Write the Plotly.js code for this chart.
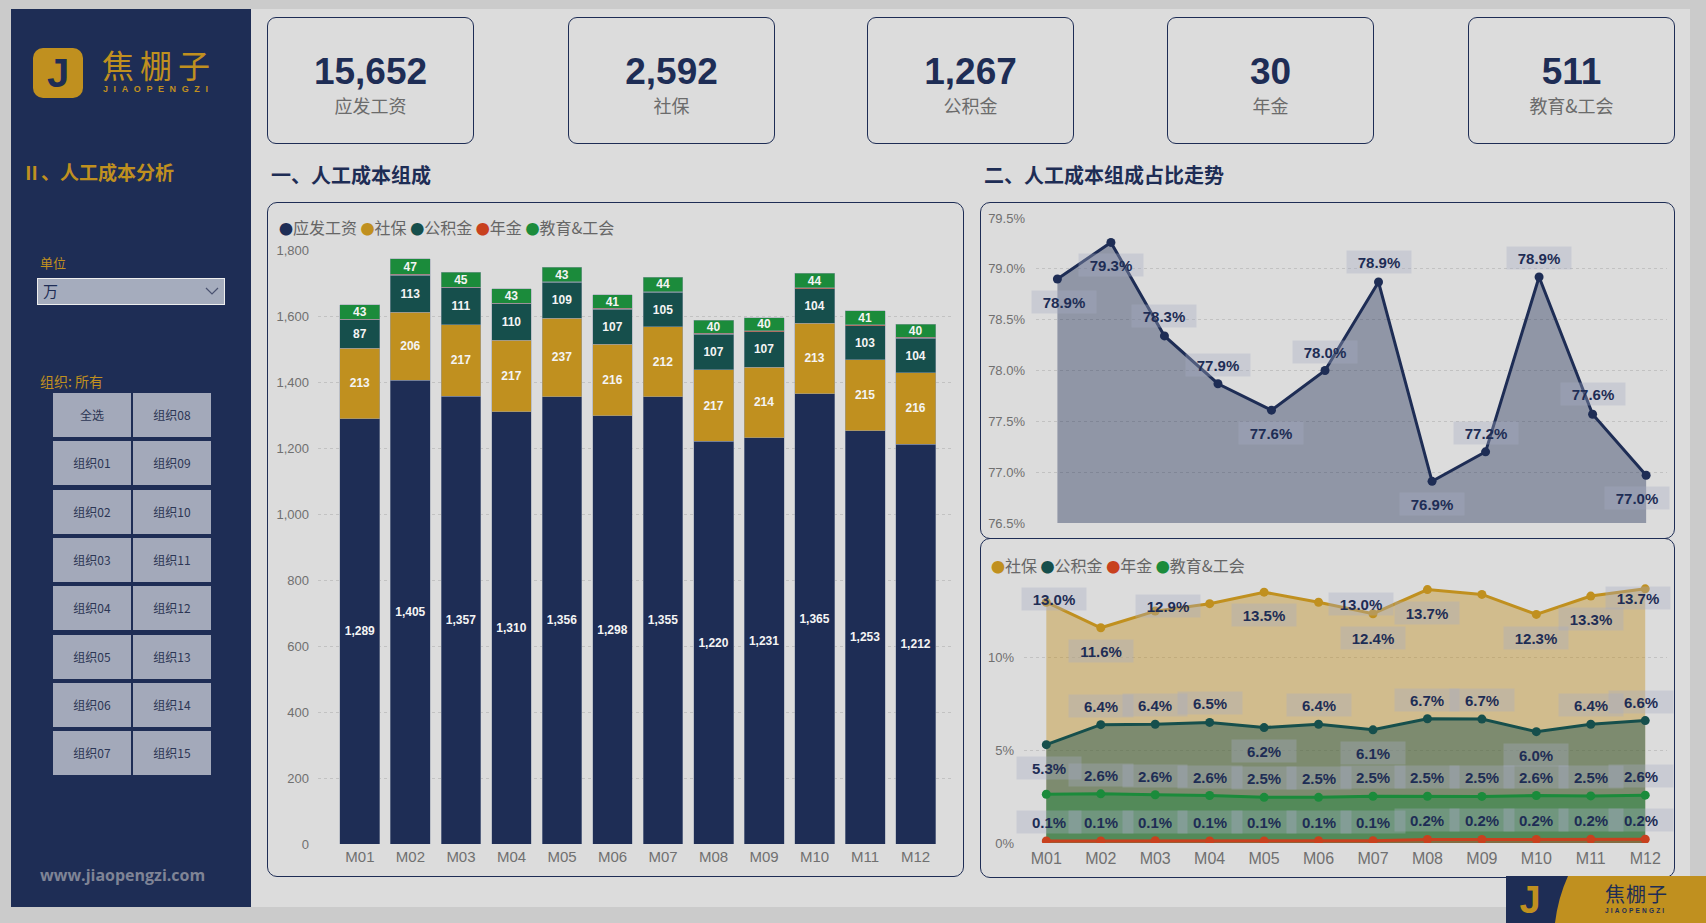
<!DOCTYPE html>
<html>
<head>
<meta charset="utf-8">
<script src="https://cdn.plot.ly/plotly-3.0.1.min.js"></script>
<style>
html,body{margin:0;padding:0;}
body{width:1706px;height:923px;background:#cbcbcb;position:relative;overflow:hidden;font-family:'Liberation Sans','Noto Sans CJK SC',sans-serif;}
.abs{position:absolute;}
#main{left:11px;top:9px;width:1679px;height:898px;background:#dcdcdc;}
#side{left:11px;top:9px;width:240px;height:898px;background:#1e2d55;}
.card{position:absolute;top:17px;width:205px;height:125px;border:1px solid #1e2d55;border-radius:9px;}
.card .v{position:absolute;left:0;right:0;top:33px;line-height:42px;text-align:center;font-weight:bold;font-size:37px;color:#1e2d55;font-family:'Liberation Sans',sans-serif;}
.card .l{position:absolute;left:0;right:0;top:75px;line-height:24px;text-align:center;font-size:18px;color:#6b6b6b;font-family:'Noto Sans CJK SC',sans-serif;}
.sect{position:absolute;top:161px;line-height:28px;font-size:20px;font-weight:bold;color:#1e2d55;font-family:'Noto Sans CJK SC',sans-serif;}
.panel{position:absolute;border:1px solid #1e2d55;border-radius:10px;box-sizing:border-box;}
.btn{position:absolute;width:78px;height:44px;background:#a3a9ba;color:#2c3654;font-size:12px;line-height:44px;text-align:center;font-family:'Noto Sans CJK SC',sans-serif;}
.gold{color:#c0901f;font-family:'Noto Sans CJK SC',sans-serif;}
.chart{position:absolute;}
</style>
</head>
<body>
<div id="main" class="abs"></div>
<div id="side" class="abs"></div>

<!-- sidebar logo -->
<div class="abs" style="left:33px;top:48px;width:50px;height:50px;background:#c0901f;border-radius:10px;"></div>
<div class="abs" style="left:33px;top:48px;width:50px;height:50px;line-height:50px;text-align:center;font-size:40px;font-weight:bold;color:#1e2d55;font-family:'Liberation Sans',sans-serif;">J</div>
<div class="abs gold" style="left:102px;top:44px;font-size:32px;line-height:40px;letter-spacing:6px;">焦棚子</div>
<div class="abs gold" style="left:103px;top:84px;font-size:9px;line-height:10px;letter-spacing:5.6px;font-weight:bold;font-family:'Liberation Sans',sans-serif;">JIAOPENGZI</div>

<div class="abs gold" style="left:22px;top:159px;font-size:19px;line-height:26px;font-weight:bold;">Ⅱ、人工成本分析</div>
<div class="abs gold" style="left:40px;top:254px;font-size:13px;line-height:18px;">单位</div>
<div class="abs" style="left:37px;top:278px;width:186px;height:25px;background:#a5acbd;border:1px solid #eeeeee;"></div>
<div class="abs" style="left:43px;top:280px;font-size:15px;line-height:22px;color:#1e2d55;font-family:'Noto Sans CJK SC',sans-serif;">万</div>
<svg class="abs" style="left:204px;top:286px;" width="16" height="10"><polyline points="2,2 8,8 14,2" fill="none" stroke="#4a5270" stroke-width="1.2"/></svg>
<div class="abs gold" style="left:40px;top:371px;font-size:14px;line-height:20px;">组织: 所有</div>
<div id="btns"></div>
<div class="abs" style="left:40px;top:864px;font-size:16px;line-height:22px;font-weight:bold;color:#7f8496;font-family:'Open Sans',sans-serif;">www.jiaopengzi.com</div>

<div id="cards"></div>
<div class="sect" style="left:271px;">一、人工成本组成</div>
<div class="sect" style="left:984px;">二、人工成本组成占比走势</div>

<div class="panel" style="left:267px;top:202px;width:697px;height:675px;"></div>
<div class="panel" style="left:980px;top:202px;width:695px;height:337px;"></div>
<div class="panel" style="left:980px;top:538px;width:695px;height:340px;"></div>

<div id="barChart" class="chart" style="left:267px;top:202px;width:696px;height:674px;"></div>
<div id="shareChart" class="chart" style="left:980px;top:202px;width:694px;height:336px;"></div>
<div id="otherChart" class="chart" style="left:980px;top:538px;width:694px;height:339px;"></div>

<!-- bottom-right logo -->
<svg class="abs" style="left:1506px;top:876px;" width="200" height="47">
  <rect x="0" y="0" width="200" height="47" fill="#c0901f"/>
  <path d="M0,0 L62,0 Q52,22 49,47 L0,47 Z" fill="#1e2d55"/>
  <text x="24" y="37" text-anchor="middle" font-family="Liberation Sans" font-weight="bold" font-size="38" fill="#c0901f">J</text>
  <text x="99" y="26" font-family="Noto Sans CJK SC" font-size="20" letter-spacing="1" fill="#1e2d55">焦棚子</text>
  <text x="99" y="37" font-family="Liberation Sans" font-weight="bold" font-size="6.5" letter-spacing="2.2" fill="#1e2d55">JIAOPENGZI</text>
</svg>

<script>
// ---------- data ----------
const months = ['M01','M02','M03','M04','M05','M06','M07','M08','M09','M10','M11','M12'];
const seriesNames = ['应发工资','社保','公积金','年金','教育&工会'];

// 人工成本组成（单位：万）
const wages     = [1289,1405,1357,1310,1356,1298,1355,1220,1231,1365,1253,1212];
const social    = [213,206,217,217,237,216,212,217,214,213,215,216];
const fund      = [87,113,111,110,109,107,105,107,107,104,103,104];
const annuity   = [1.8,2.0,2.0,1.9,2.0,2.0,2.1,3.0,3.1,3.2,3.2,3.2];
const eduUnion  = [43,47,45,43,43,41,44,40,40,44,41,40];

// KPI totals
const kpiLabels = ['应发工资','社保','公积金','年金','教育&工会'];
const kpiValues = [15652,2592,1267,30,511];

// 占比 (%)
const wageShare    = [78.90,79.26,78.34,77.87,77.61,78.00,78.87,76.91,77.20,78.92,77.57,76.97];
const socialShare  = [12.98,11.60,12.50,12.90,13.52,12.98,12.36,13.66,13.40,12.32,13.31,13.70];
const fundShare    = [5.30,6.38,6.40,6.50,6.22,6.40,6.10,6.70,6.68,6.00,6.40,6.60];
const annuityShare = [0.11,0.11,0.12,0.11,0.11,0.12,0.12,0.19,0.19,0.19,0.20,0.20];
const eduShare     = [2.63,2.65,2.60,2.56,2.46,2.46,2.52,2.52,2.51,2.56,2.54,2.58];

// sidebar slicer
const orgButtons = ['全选','组织08','组织01','组织09','组织02','组织10','组织03','组织11',
                    '组织04','组织12','组织05','组织13','组织06','组织14','组织07','组织15'];

// ---------- styles ----------
const C = {navy:'#1e2d55', gold:'#c0901f', teal:'#164f4c', red:'#c8411e', green:'#1b8b3b'};
const seriesColors = [C.navy, C.gold, C.teal, C.red, C.green];
const FONT = 'Liberation Sans, Noto Sans CJK SC, sans-serif';
const CJK = 'Noto Sans CJK SC, Liberation Sans, sans-serif';
const TICK = '#707070';
const GRID = '#c2c2c2';
const LBL_BG = 'rgba(165,172,195,0.35)';

// sidebar buttons & cards
(function(){
  let h = '';
  orgButtons.forEach((t,i)=>{
    const col = i%2, row = Math.floor(i/2);
    h += `<div class="btn" style="left:${col?133:53}px;top:${Math.round(393+row*48.3)}px;">${t}</div>`;
  });
  document.getElementById('btns').innerHTML = h;
  const lefts = [267,568,867,1167,1468];
  let c = '';
  kpiLabels.forEach((t,i)=>{
    c += `<div class="card" style="left:${lefts[i]}px;"><div class="v">${kpiValues[i].toLocaleString('en-US')}</div><div class="l">${t}</div></div>`;
  });
  document.getElementById('cards').innerHTML = c;
})();

const cfg = {displayModeBar:false, staticPlot:true};

function legendText(names, colors){
  return names.map((n,i)=>`<span style="color:${colors[i]};font-size:14px">●</span>${n}`).join(' ');
}

// ---------- chart 1: stacked bars ----------
function barTrace(y, name, color, showText){
  return {type:'bar', x:months, y:y, name:name,
    marker:{color:color, line:{color:'rgba(150,158,175,0.6)', width:0.8}},
    texttemplate: showText ? '%{y:,.0f}' : '',
    textposition: showText ? 'inside' : 'none',
    insidetextanchor:'middle', textangle:0, constraintext:'none',
    textfont:{family:FONT, size:12, color:'#f4f4f4', weight:'bold'},
    hoverinfo:'skip', showlegend:false};
}
Plotly.newPlot('barChart', [
  barTrace(wages, seriesNames[0], C.navy, true),
  barTrace(social, seriesNames[1], C.gold, true),
  barTrace(fund, seriesNames[2], C.teal, true),
  barTrace(annuity, seriesNames[3], C.red, false),
  barTrace(eduUnion, seriesNames[4], C.green, true)
], {
  width:696, height:674,
  margin:{l:51, r:11, t:48, b:32},
  paper_bgcolor:'rgba(0,0,0,0)', plot_bgcolor:'rgba(0,0,0,0)',
  barmode:'stack', bargap:0.21,
  font:{family:FONT},
  xaxis:{range:[-0.83,11.72], showgrid:false, zeroline:false, showline:false, ticks:'',
         ticklabelstandoff:2, tickfont:{size:15, color:TICK, family:FONT}},
  yaxis:{range:[0,1800], dtick:200, tickformat:',d', showgrid:true, gridcolor:GRID, griddash:'dot',
         zeroline:false, showline:false, ticks:'', ticklabelstandoff:8,
         tickfont:{size:13, color:TICK, family:FONT}},
  annotations:[{xref:'paper', yref:'paper', x:-0.0647, y:1.0387, xanchor:'left', yanchor:'middle',
    showarrow:false, align:'left', text:legendText(seriesNames, seriesColors),
    font:{size:16, color:'#666666', family:CJK}}]
}, cfg);

// ---------- label helper ----------
function labels(values, mask, dx, dy){
  const out = [];
  values.forEach((v,i)=>{
    if(!mask[i]) return;
    out.push({xref:'x', yref:'y', x:months[i], y:v, text:'<b>'+v.toFixed(1)+'%</b>',
      showarrow:false, xshift:dx[i], yshift:-dy[i],
      font:{family:FONT, size:15, color:C.navy},
      bgcolor:LBL_BG, width:60, height:18, borderpad:2});
  });
  return out;
}
const all = months.map(()=>1);

// ---------- chart 2: 应发工资占比 ----------
const wageDx = [7,0,0,0,0,0,0,0,0,0,0,-9];
const wageDy = [23,23,-20,-19,23,-19,-20,23,-19,-19,-20,23];
Plotly.newPlot('shareChart', [{
  type:'scatter', mode:'lines+markers', x:months, y:wageShare, name:seriesNames[0],
  line:{color:C.navy, width:3}, marker:{color:C.navy, size:9},
  fill:'tozeroy', fillcolor:'rgba(30,45,85,0.4)', hoverinfo:'skip', showlegend:false
}], {
  width:694, height:336,
  margin:{l:56, r:7, t:16, b:15},
  paper_bgcolor:'rgba(0,0,0,0)', plot_bgcolor:'rgba(0,0,0,0)',
  xaxis:{range:[-0.4,11.39], showticklabels:false, showgrid:false, zeroline:false, ticks:''},
  yaxis:{range:[76.5,79.5], dtick:0.5, tickformat:'.1f', ticksuffix:'%', showgrid:true,
         gridcolor:GRID, griddash:'dot', zeroline:false, ticks:'', ticklabelstandoff:10,
         tickfont:{size:13, color:TICK, family:FONT}},
  annotations: labels(wageShare, all, wageDx, wageDy)
}, cfg);

// ---------- chart 3: 其他组成占比 ----------
function areaTrace(y, name, color, fill){
  return {type:'scatter', mode:'lines+markers', x:months, y:y, name:name,
    line:{color:color, width:3}, marker:{color:color, size:9},
    fill:'tozeroy', fillcolor:fill, hoverinfo:'skip', showlegend:false};
}
const socialMask = [1,1,0,1,1,1,1,1,0,1,1,1];
const socialDx = [8,0,0,-42,0,42,0,0,0,0,0,-7];
const socialDy = [-3,23,0,2,23,2,24,23,0,24,23,9];
const fundDx = [3,0,0,0,0,0,0,0,0,0,0,-4];
const fundDy = [23,-19,-19,-19,23,-19,23,-19,-19,23,-19,-19];
const eduMask = [0,1,1,1,1,1,1,1,1,1,1,1];
const edgeDx = [3,0,0,0,0,0,0,0,0,0,0,-4];
const upDy = months.map(()=>-19);

Plotly.newPlot('otherChart', [
  areaTrace(socialShare, seriesNames[1], C.gold, 'rgba(192,144,31,0.42)'),
  areaTrace(fundShare, seriesNames[2], C.teal, 'rgba(22,79,76,0.45)'),
  areaTrace(eduShare, seriesNames[4], C.green, 'rgba(27,139,59,0.42)'),
  areaTrace(annuityShare, seriesNames[3], C.red, 'rgba(200,65,30,0.4)')
], {
  width:694, height:339,
  margin:{l:44, r:7, t:36, b:34},
  paper_bgcolor:'rgba(0,0,0,0)', plot_bgcolor:'rgba(0,0,0,0)',
  xaxis:{range:[-0.41,11.4], showgrid:false, zeroline:false, ticks:'', ticklabelstandoff:4,
         tickfont:{size:16, color:TICK, family:FONT}},
  yaxis:{range:[0,14.5], dtick:5, ticksuffix:'%', showgrid:true, gridcolor:GRID, griddash:'dot',
         zeroline:false, ticks:'', ticklabelstandoff:9,
         tickfont:{size:13, color:TICK, family:FONT}},
  annotations: [].concat(
    labels(socialShare, socialMask, socialDx, socialDy),
    labels(fundShare, all, fundDx, fundDy),
    labels(eduShare, eduMask, edgeDx, upDy),
    labels(annuityShare, all, edgeDx, upDy),
    [{xref:'paper', yref:'paper', x:-0.0544, y:1.033, xanchor:'left', yanchor:'middle',
      showarrow:false, align:'left',
      text:legendText([seriesNames[1],seriesNames[2],seriesNames[3],seriesNames[4]],[C.gold,C.teal,C.red,C.green]),
      font:{size:16, color:'#666666', family:CJK}}]
  )
}, cfg);
</script>
</body>
</html>
